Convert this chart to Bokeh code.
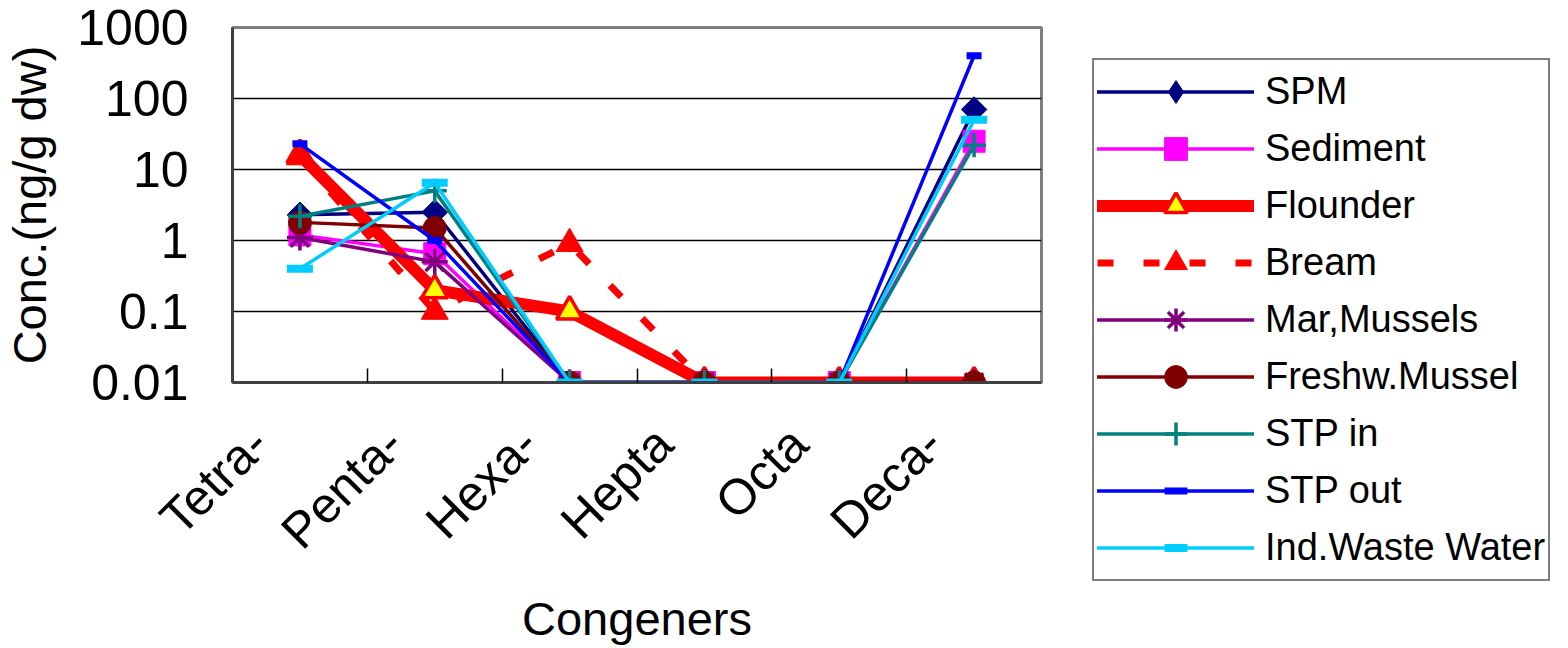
from bokeh.plotting import figure
from bokeh.models import (FactorRange, Range1d, FixedTicker, LinearAxis,
                          Legend, LegendItem)
from bokeh.embed import file_html
from bokeh.resources import INLINE
import math

categories = ["Tetra-", "Penta-", "Hexa-", "Hepta", "Octa", "Deca-"]
y_ticks = [0.01, 0.1, 1, 10, 100, 1000]
y_tick_labels = ["0.01", "0.1", "1", "10", "100", "1000"]
boundary_ticks = [1, 2, 3, 4, 5]

series_names = ["SPM", "Sediment", "Flounder", "Bream", "Mar,Mussels",
                "Freshw.Mussel", "STP in", "STP out", "Ind.Waste Water"]
spm = [2.3, 2.5, 0.01, 0.01, 0.01, 70]
sediment = [1.2, 0.65, 0.01, 0.01, 0.01, 25]
flounder = [16, 0.2, 0.1, 0.01, 0.01, 0.01]
bream = [15, 0.1, 0.9, 0.01, 0.01, 0.01]
mar_mussels = [1.1, 0.5, 0.01, 0.01, 0.01, 0.01]
freshw_mussel = [1.8, 1.5, 0.01, 0.01, 0.01, 0.01]
stp_in = [2.2, 5.0, 0.01, 0.01, 0.01, 22]
stp_out = [23, 1.0, 0.01, 0.01, 0.01, 400]
ind_waste_water = [0.4, 6.5, 0.01, 0.01, 0.01, 50]

FONT = "Liberation Sans"

p = figure(frame_width=809, frame_height=355, x_range=FactorRange(*categories),
           y_axis_type="log", y_range=Range1d(0.01, 1000),
           x_axis_location=None, output_backend="svg", toolbar_location=None,
           min_border_left=226, min_border_right=500, min_border_top=27, min_border_bottom=230)

# boundary tick axis (closest to plot) - ticks at category boundaries
tick_axis = LinearAxis(ticker=FixedTicker(ticks=boundary_ticks),
                       major_label_overrides={t: "" for t in boundary_ticks},
                       major_tick_in=14, major_tick_out=0, minor_tick_line_color=None,
                       major_label_text_font_size="1px", major_label_standoff=0,
                       axis_line_color="#404040", axis_line_width=3,
                       major_tick_line_color="black", major_tick_line_width=1.5)
p.add_layout(tick_axis, "below")

# category label axis (labels sit slightly left of category centre, like the original)
label_shift = 0.30
label_ticks = [round(i + 0.5 - label_shift, 3) for i in range(len(categories))]
label_axis = LinearAxis(ticker=FixedTicker(ticks=label_ticks),
                        major_label_overrides=dict(zip(label_ticks, categories)),
                        axis_line_color=None, major_tick_line_color=None, minor_tick_line_color=None,
                        major_label_orientation=math.pi / 4,
                        major_label_text_font=FONT, major_label_text_font_size="50px",
                        major_label_text_color="black", major_label_standoff=47,
                        axis_label="Congeners", axis_label_text_font=FONT,
                        axis_label_text_font_size="47px", axis_label_text_font_style="normal",
                        axis_label_text_color="black", axis_label_standoff=10)
p.add_layout(label_axis, "below")

ya = p.yaxis[0]
ya.ticker = FixedTicker(ticks=y_ticks)
ya.major_label_overrides = dict(zip(y_ticks, y_tick_labels))
ya.major_label_text_font = FONT
ya.major_label_text_font_size = "50px"
ya.major_label_text_color = "black"
ya.major_tick_line_color = None
ya.minor_tick_line_color = None
ya.major_label_standoff = 38
ya.axis_line_color = "#404040"
ya.axis_line_width = 3
ya.axis_label = "Conc.(ng/g dw)"
ya.axis_label_text_font = FONT
ya.axis_label_text_font_size = "47px"
ya.axis_label_text_font_style = "normal"
ya.axis_label_text_color = "black"
ya.axis_label_standoff = 18

p.ygrid.ticker = FixedTicker(ticks=y_ticks)
p.ygrid.grid_line_color = "black"
p.ygrid.grid_line_width = 1.5
p.xgrid.visible = False
p.outline_line_color = "#808080"
p.outline_line_width = 3
p.background_fill_color = "white"
p.border_fill_color = "white"

styles = [
    dict(data=spm, color="#000080", lw=3.5, dash="solid", marker="square", size=18, angle=math.pi / 4,
         fill="#000080", mline="#000080", mlw=1),
    dict(data=sediment, color="#FF00FF", lw=3.5, dash="solid", marker="square", size=22, angle=0,
         fill="#FF00FF", mline="#FF00FF", mlw=1),
    dict(data=flounder, color="#FF0000", lw=12, dash="solid", marker="triangle", size=26, angle=0,
         fill="#FFFF00", mline="#FF0000", mlw=3.5),
    dict(data=bream, color="#FF0000", lw=7, dash="16 30", marker="triangle", size=27, angle=0,
         fill="#FF0000", mline="#FF0000", mlw=1),
    dict(data=mar_mussels, color="#800080", lw=3.5, dash="solid", marker="asterisk", size=26, angle=0,
         fill="#800080", mline="#800080", mlw=3.5),
    dict(data=freshw_mussel, color="#800000", lw=3.5, dash="solid", marker="circle", size=23, angle=0,
         fill="#800000", mline="#800000", mlw=1),
    dict(data=stp_in, color="#008080", lw=3.5, dash="solid", marker="cross", size=24, angle=0,
         fill="#008080", mline="#008080", mlw=3.5),
    dict(data=stp_out, color="#0000FF", lw=3.5, dash="solid", marker="dash", size=15, angle=0,
         fill="#0000FF", mline="#0000FF", mlw=7),
    dict(data=ind_waste_water, color="#00CCFF", lw=3.5, dash="solid", marker="dash", size=26, angle=0,
         fill="#00CCFF", mline="#00CCFF", mlw=8),
]

items = []
for name, st in zip(series_names, styles):
    ln = p.line(categories, st["data"], line_color=st["color"], line_width=st["lw"],
                line_dash=st["dash"], line_join="round", line_cap="round" if st["dash"] == "solid" else "butt")
    legend_renderers = [ln]
    if st["angle"] != 0:
        # the legend draws markers unrotated: a diamond (hidden under the rotated square) stands in there
        proxy = p.scatter(categories, st["data"], marker="diamond", size=st["size"],
                          fill_color=st["fill"], line_color=st["mline"], line_width=st["mlw"])
        legend_renderers.append(proxy)
    sc = p.scatter(categories, st["data"], marker=st["marker"], size=st["size"], angle=st["angle"],
                   fill_color=st["fill"], line_color=st["mline"], line_width=st["mlw"])
    if st["angle"] == 0:
        legend_renderers.append(sc)
    items.append(LegendItem(label=name, renderers=legend_renderers))

legend = Legend(items=items, location=(51, -199), glyph_width=157, glyph_height=57,
                label_height=57, spacing=0, padding=3, label_standoff=11,
                label_text_font=FONT, label_text_font_size="38px", label_text_color="black",
                border_line_color="black", border_line_width=2, background_fill_color="white",
                background_fill_alpha=1, margin=0)
p.add_layout(legend, "right")

open("out.html", "w").write(file_html(p, INLINE))
